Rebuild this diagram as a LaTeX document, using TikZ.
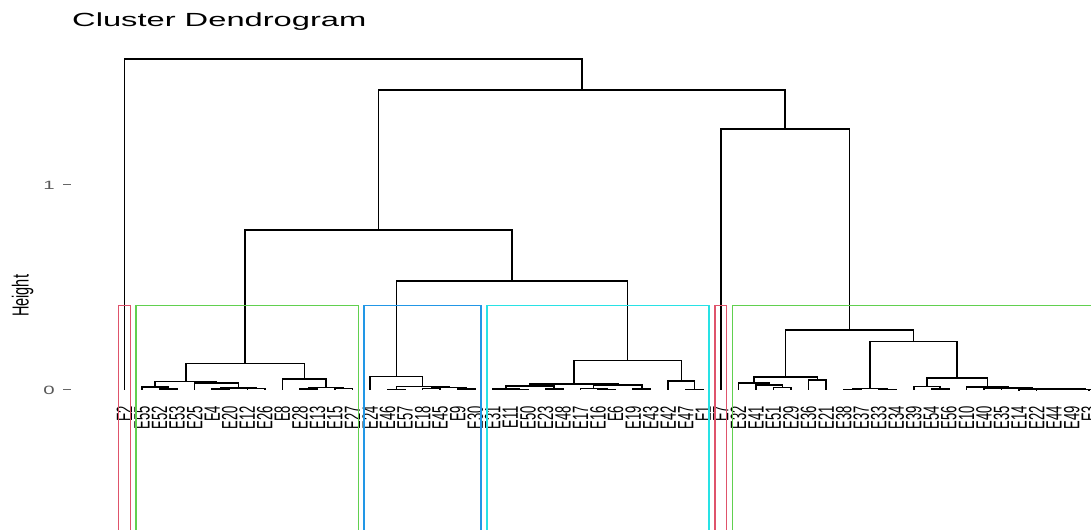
\documentclass[tikz,border=0pt]{standalone}
\usepackage{fontspec}
\setmainfont{Liberation Sans}
\usepackage{graphicx}
\usetikzlibrary{calc}

\definecolor{rred}{HTML}{DF536B}
\definecolor{rgreen}{HTML}{61D04F}
\definecolor{rblue}{HTML}{2297E6}
\definecolor{rcyan}{HTML}{28E2E5}

\tikzset{
  branch/.style={line width=1.5pt},
  cut/.style={line width=1.5pt},
  tick/.style={line width=0.9pt, black!60},
  ticklab/.style={inner sep=0pt, black!65, font=\fontsize{12}{14}\selectfont},
  leaflab/.style={rotate=90, anchor=east, inner sep=0pt, font=\fontsize{13}{15}\selectfont},
}

% join two children (names) at a given height
\newcommand{\merge}[4]{%
  \coordinate (tmp) at ($(#2)!.5!(#3)$);
  \coordinate (#1) at (tmp |- 0,#4);
  \draw[branch] (#2) |- (#1) -| (#3);
}

\begin{document}
\begin{tikzpicture}[x=17.54pt, y=205pt]

	\useasboundingbox (-6.098,-0.683) rectangle (56.103,1.902);
	\clip (-6.098,-0.683) rectangle (56.103,1.902);

	\node[anchor=base west, inner sep=0pt, font=\fontsize{19}{22}\selectfont] (title) at (-1.993,1.771) {\scalebox{1.72}[1]{Cluster Dendrogram}};
	\node[rotate=90, inner sep=0pt, font=\fontsize{14.5}{16}\selectfont] (ylab) at (-4.815,0.4585) {\scalebox{1}[1.6]{Height}};

	\node[ticklab] (t0) at (-3.304,0) {\scalebox{1.7}[1]{0}};
	\node[ticklab] (t1) at (-3.304,1) {\scalebox{1.7}[1]{1}};
	\draw[tick] (-2.49,0) -- (-2.066,0);
	\draw[tick] (-2.49,1) -- (-2.066,1);

	\foreach \i in {1,...,57}
		\coordinate (l\i) at (\i,0);

	% first green group
	\merge{ga1}{l3}{l4}{0.005}
	\merge{ga}{l2}{ga1}{0.013}
	\merge{gc1}{l6}{l7}{0.004}
	\merge{gc2}{l8}{l9}{0.006}
	\merge{gc}{gc1}{gc2}{0.009}
	\merge{gb}{l5}{gc}{0.033}
	\merge{gd}{ga}{gb}{0.040}
	\merge{gg1}{l11}{l12}{0.004}
	\merge{gg2}{l13}{l14}{0.006}
	\merge{gg}{gg1}{gg2}{0.012}
	\merge{gf}{l10}{gg}{0.054}
	\merge{green1}{gd}{gf}{0.130}

	% blue group
	\merge{bk}{l16}{l17}{0.003}
	\merge{bm1}{l18}{l19}{0.006}
	\merge{bm2}{l20}{l21}{0.004}
	\merge{bm}{bm1}{bm2}{0.012}
	\merge{bj}{bk}{bm}{0.016}
	\merge{blue}{l15}{bj}{0.065}

	% cyan group
	\merge{cs1}{l23}{l24}{0.002}
	\merge{cs}{l22}{cs1}{0.004}
	\merge{ct}{l25}{l26}{0.005}
	\merge{cq}{cs}{ct}{0.020}
	\merge{cu1}{l28}{l29}{0.003}
	\merge{cu}{l27}{cu1}{0.006}
	\merge{cv}{l30}{l31}{0.005}
	\merge{cr}{cu}{cv}{0.024}
	\merge{cp}{cq}{cr}{0.029}
	\merge{cn1}{l33}{l34}{0.002}
	\merge{cn}{l32}{cn1}{0.044}
	\merge{cyan}{cp}{cn}{0.143}

	% second green group
	\merge{hz}{l38}{l39}{0.011}
	\merge{hy}{l37}{hz}{0.024}
	\merge{hx}{l36}{hy}{0.033}
	\merge{ha}{l40}{l41}{0.049}
	\merge{hw}{hx}{ha}{0.062}
	\merge{hc1}{l42}{l43}{0.003}
	\merge{hc2}{l44}{l45}{0.003}
	\merge{hc}{hc1}{hc2}{0.008}
	\merge{he1}{l47}{l48}{0.004}
	\merge{he}{l46}{he1}{0.016}
	\merge{hj1}{l52}{l53}{0.001}
	\merge{hj}{hj1}{l54}{0.003}
	\merge{hk1}{l56}{l57}{0.001}
	\merge{hk}{l55}{hk1}{0.003}
	\merge{hi}{hj}{hk}{0.004}
	\merge{hh}{l51}{hi}{0.006}
	\merge{hg}{l50}{hh}{0.010}
	\merge{hf}{l49}{hg}{0.014}
	\merge{hd}{he}{hf}{0.057}
	\merge{hb}{hc}{hd}{0.236}
	\merge{green2}{hw}{hb}{0.293}

	% upper joins
	\merge{bc}{blue}{cyan}{0.532}
	\merge{lmid}{green1}{bc}{0.780}
	\merge{rmid}{l35}{green2}{1.273}
	\merge{mid}{lmid}{rmid}{1.463}
	\merge{root}{l1}{mid}{1.615}

	\foreach \i/\t in {1/E2, 2/E55, 3/E52, 4/E53, 5/E25, 6/E4, 7/E20, 8/E12, 9/E26, 10/E8,
		11/E28, 12/E13, 13/E15, 14/E27, 15/E24, 16/E46, 17/E57, 18/E18, 19/E45, 20/E9,
		21/E30, 22/E31, 23/E11, 24/E50, 25/E23, 26/E48, 27/E17, 28/E16, 29/E6, 30/E19,
		31/E43, 32/E42, 33/E47, 34/E1, 35/E7, 36/E32, 37/E41, 38/E51, 39/E29, 40/E36,
		41/E21, 42/E38, 43/E37, 44/E33, 45/E34, 46/E39, 47/E54, 48/E56, 49/E10, 50/E40,
		51/E35, 52/E14, 53/E22, 54/E44, 55/E49, 56/E3, 57/E5}
		\node[leaflab] (lab\i) at (\i,-0.078) {\scalebox{1}[1.7]{\t}};

	% cluster boxes
	\foreach \a/\b/\c in {0.66/1.33/rred, 1.66/14.33/rgreen, 14.66/21.33/rblue,
		21.66/34.33/rcyan, 34.66/35.33/rred, 35.66/57.33/rgreen}
		\draw[cut, \c] (\a,-0.8) rectangle (\b,0.4125);

\end{tikzpicture}
\end{document}
